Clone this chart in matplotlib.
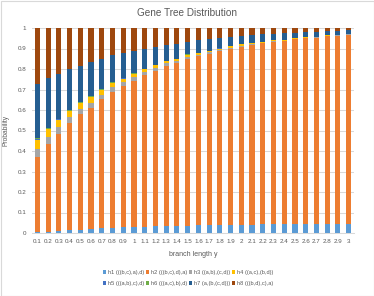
import matplotlib
matplotlib.use("Agg")
import matplotlib.pyplot as plt
from matplotlib.patches import Patch, Rectangle

categories = ["0.1", "0.2", "0.3", "0.4", "0.5", "0.6", "0.7", "0.8", "0.9", "1",
              "1.1", "1.2", "1.3", "1.4", "1.5", "1.6", "1.7", "1.8", "1.9", "2",
              "2.1", "2.2", "2.3", "2.4", "2.5", "2.6", "2.7", "2.8", "2.9", "3"]

h1 = [0.004, 0.007, 0.011, 0.014, 0.017, 0.020, 0.023, 0.026, 0.028, 0.030,
      0.031, 0.032, 0.033, 0.035, 0.036, 0.037, 0.038, 0.040, 0.040, 0.040,
      0.041, 0.042, 0.042, 0.042, 0.043, 0.043, 0.043, 0.044, 0.044, 0.044]
h2 = [0.367, 0.426, 0.474, 0.522, 0.563, 0.590, 0.630, 0.663, 0.691, 0.713,
      0.739, 0.758, 0.781, 0.793, 0.815, 0.824, 0.837, 0.850, 0.858, 0.868,
      0.877, 0.883, 0.890, 0.894, 0.902, 0.907, 0.910, 0.916, 0.918, 0.923]
h3 = [0.040, 0.036, 0.032, 0.028, 0.025, 0.026, 0.022, 0.021, 0.017, 0.017,
      0.016, 0.016, 0.013, 0.010, 0.009, 0.009, 0.006, 0.005, 0.006, 0.006,
      0.004, 0.003, 0.004, 0.003, 0.003, 0.002, 0.002, 0.002, 0.002, 0.002]
h4 = [0.044, 0.037, 0.035, 0.030, 0.028, 0.026, 0.023, 0.021, 0.017, 0.016,
      0.014, 0.013, 0.011, 0.010, 0.009, 0.008, 0.007, 0.005, 0.006, 0.006,
      0.005, 0.004, 0.004, 0.004, 0.003, 0.003, 0.003, 0.002, 0.002, 0.003]
h5 = [0.003, 0.003, 0.003, 0.003, 0.003, 0.003, 0.002, 0.002, 0.002, 0.002,
      0.001, 0.001, 0.001, 0.001, 0.001, 0.001, 0.001, 0.0005, 0.0005, 0.0005,
      0.0003, 0.0003, 0.0003, 0.0003, 0.0002, 0.0002, 0.0002, 0.0002, 0.0002, 0.0002]
h6 = [0.004, 0.003, 0.003, 0.003, 0.003, 0.003, 0.002, 0.002, 0.002, 0.002,
      0.001, 0.001, 0.001, 0.001, 0.001, 0.001, 0.001, 0.0005, 0.0005, 0.001,
      0.0003, 0.0003, 0.0003, 0.0003, 0.0002, 0.0002, 0.0002, 0.0002, 0.0002, 0.0002]
h7 = [0.266, 0.243, 0.220, 0.198, 0.178, 0.167, 0.147, 0.131, 0.122, 0.108,
      0.098, 0.087, 0.076, 0.074, 0.061, 0.060, 0.055, 0.049, 0.044, 0.039,
      0.037, 0.036, 0.032, 0.031, 0.026, 0.026, 0.024, 0.020, 0.019, 0.017]
h8 = [0.272, 0.246, 0.222, 0.202, 0.183, 0.165, 0.150, 0.134, 0.121, 0.112,
      0.100, 0.092, 0.084, 0.076, 0.068, 0.060, 0.055, 0.049, 0.044, 0.039,
      0.036, 0.032, 0.028, 0.026, 0.023, 0.019, 0.018, 0.016, 0.015, 0.011]

labels = ["h1 (((b,c),a),d)", "h2 (((b,c),d),a)", "h3 ((a,b),(c,d))", "h4 ((a,c),(b,d))",
          "h5 (((a,b),c),d)", "h6 (((a,c),b),d)", "h7 (a,(b,(c,d)))", "h8 (((b,d),c),a)"]
colors = ["#5B9BD5", "#ED7D31", "#A5A5A5", "#FFC000",
          "#4472C4", "#70AD47", "#255E91", "#9E480E"]
series = [h1, h2, h3, h4, h5, h6, h7, h8]

plt.rcParams['font.family'] = ['Liberation Sans Narrow', 'Liberation Sans', 'DejaVu Sans']
txt = "#595959"

fig = plt.figure(figsize=(3.74, 2.96), dpi=100)
fig.patches.append(Rectangle((0.5/374, 0.5/296), 373/374, 295/296, transform=fig.transFigure,
                             fill=False, edgecolor="#D9D9D9", linewidth=0.8))
ax = fig.add_axes([32/374, (296-233)/296, 322/374, 205/296])

x = list(range(len(categories)))
bottom = [0.0] * len(categories)
for vals, col, lab in zip(series, colors, labels):
    ax.bar(x, vals, width=0.48, bottom=bottom, color=col, label=lab, zorder=3, linewidth=0)
    bottom = [b + v for b, v in zip(bottom, vals)]

ax.set_xlim(-0.5, len(categories) - 0.5)
ax.set_ylim(0, 1)
ax.set_yticks([i / 10 for i in range(11)])
ax.set_yticklabels(["0", "0.1", "0.2", "0.3", "0.4", "0.5", "0.6", "0.7", "0.8", "0.9", "1"])
ax.set_xticks(x)
ax.set_xticklabels(categories)
ax.grid(axis="y", color="#D9D9D9", linewidth=0.75, zorder=0)
for s in ["top", "right", "left"]:
    ax.spines[s].set_visible(False)
ax.spines["bottom"].set_color("#D9D9D9")
ax.spines["bottom"].set_linewidth(0.75)
ax.tick_params(axis="both", length=0, labelsize=4.5, colors=txt, pad=4)
ax.set_xlabel("branch length y", fontsize=5, color=txt, labelpad=5)
ax.set_ylabel("Probability", fontsize=4.8, color=txt, labelpad=6)

fig.text(187/374, 1 - 13/296, "Gene Tree Distribution", ha="center", va="center",
         fontsize=7.2, color=txt)

handles = [Patch(facecolor=c, edgecolor="none") for c in colors]
order = [0, 4, 1, 5, 2, 6, 3, 7]
fig.legend([handles[i] for i in order], [labels[i] for i in order],
           loc="center", bbox_to_anchor=(188/374, 1 - 278/296), ncol=4, frameon=False,
           fontsize=4.1, handlelength=0.6, handleheight=0.6, handletextpad=0.25,
           columnspacing=0.35, labelspacing=1.0, labelcolor=txt)

fig.savefig("out.png", dpi=100)
